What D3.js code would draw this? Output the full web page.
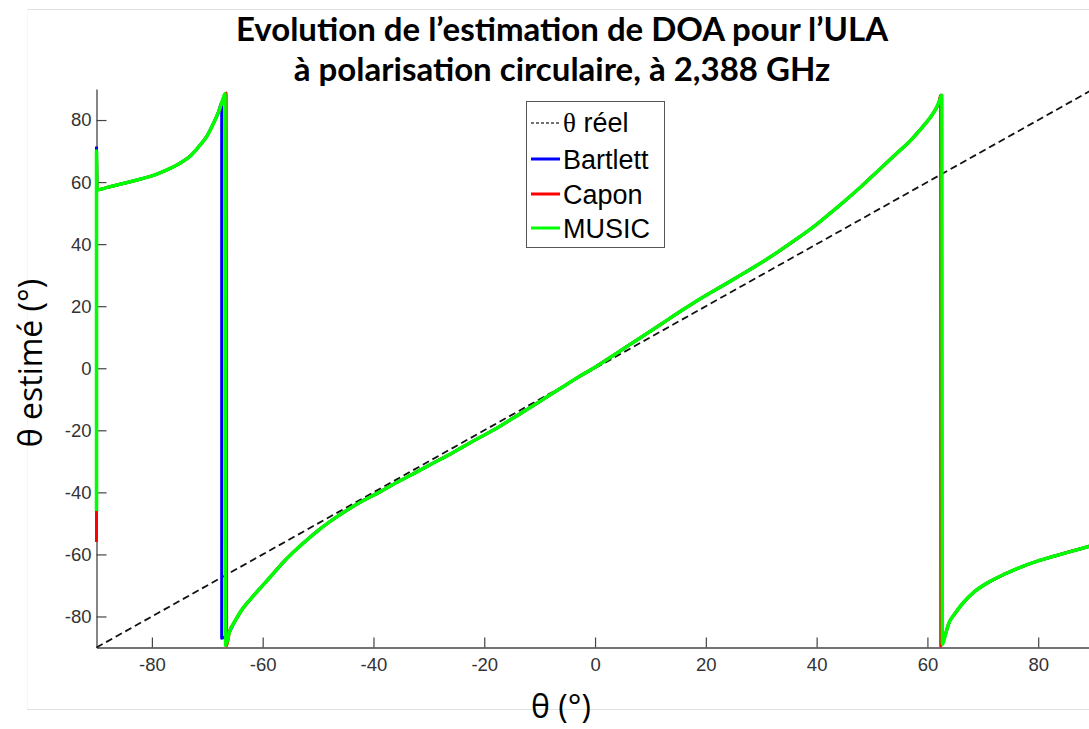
<!DOCTYPE html>
<html>
<head>
<meta charset="utf-8">
<script src="https://cdn.jsdelivr.net/npm/d3@7"></script>
<style>
  body { margin: 0; background: #fff; }
  svg { display: block; }
</style>
</head>
<body>
<div id="chart"></div>
<script>
// Valeurs (theta reel -> theta estime, en degres)
const xTicks = [-80, -60, -40, -20, 0, 20, 40, 60, 80];
const yTicks = [-80, -60, -40, -20, 0, 20, 40, 60, 80];

const reelX = [-90, 90];
const reelY = [-90, 90];

const musicX = [-90, -90, -89.9, -88, -85, -82, -80, -77.5, -75, -73, -71.5, -70, -69, -68, -67.3, -66.8,
  -66.7, -66, -65, -64, -62, -60, -58, -56, -54, -52, -50, -48, -45, -42, -39, -36, -33, -30, -27, -24, -21,
  -18, -15, -12, -9, -6, -3, 0, 3, 6, 9, 12, 15, 18, 21, 24, 27, 30, 33, 36, 39, 42, 45, 48, 51, 54, 57,
  59, 60.5, 61.5, 62.1, 62.6,
  62.7, 63.3, 63.8, 65, 66.5, 68.5, 71, 74, 77, 80, 83, 86, 90];
const musicY = [-46, 70, 57.5, 58.3, 59.6, 61, 62, 63.8, 66, 68.5, 71.5, 75, 78.5, 82.5, 86, 88.5,
  -89.4, -85, -81.5, -78.5, -74, -70, -66, -62, -58.5, -55.3, -52.3, -49.6, -46, -42.8, -40, -37, -34.2,
  -31.3, -28.5, -25.5, -22.5, -19.6, -16.3, -13, -9.6, -6.2, -2.8, 0.3, 3.8, 7.3, 10.8, 14.3, 17.9, 21.3,
  24.5, 27.6, 30.8, 34, 37.5, 41.2, 45, 49.3, 53.8, 58.5, 63.5, 68.5, 73.5, 77.5, 80.8, 83.5, 85.8, 88,
  -89, -85.5, -82.5, -79, -75.5, -72, -69, -66.3, -64, -62.1, -60.5, -59, -57];

const bartlettX = [-90, -89.9, -88, -85, -82, -80, -77.5, -75, -73, -71.5, -70, -69, -68, -67.4,
  -67.4, -66.8, -66, -65, -64, -62, -60, -58, -56, -54, -52, -50, -48, -45, -42, -39, -36, -33, -30, -27,
  -24, -21, -18, -15, -12, -9, -6, -3, 0, 3, 6, 9, 12, 15, 18, 21, 24, 27, 30, 33, 36, 39, 42, 45, 48,
  51, 54, 57, 59, 60.5, 61.5, 62.1, 62.5,
  62.6, 63.3, 63.8, 65, 66.5, 68.5, 71, 74, 77, 80, 83, 86, 90];
const bartlettY = [71.5, 57.5, 58.3, 59.6, 61, 62, 63.8, 66, 68.5, 71.5, 75, 78.5, 82.5, 85.5,
  -87, -86.5, -85, -81.5, -78.5, -74, -70, -66, -62, -58.5, -55.3, -52.3, -49.6, -46, -42.8, -40, -37,
  -34.2, -31.3, -28.5, -25.5, -22.5, -19.6, -16.3, -13, -9.6, -6.2, -2.8, 0.3, 3.8, 7.3, 10.8, 14.3, 17.9,
  21.3, 24.5, 27.6, 30.8, 34, 37.5, 41.2, 45, 49.3, 53.8, 58.5, 63.5, 68.5, 73.5, 77.5, 80.8, 83.5, 85.8, 88,
  -88.5, -85.5, -82.5, -79, -75.5, -72, -69, -66.3, -64, -62.1, -60.5, -59, -57];

const caponX = [-90, -90, -89.9, -88, -85, -82, -80, -77.5, -75, -73, -71.5, -70, -69, -68, -67.3, -66.6,
  -66.5, -66, -65, -64, -62, -60, -58, -56, -54, -52, -50, -48, -45, -42, -39, -36, -33, -30, -27, -24, -21,
  -18, -15, -12, -9, -6, -3, 0, 3, 6, 9, 12, 15, 18, 21, 24, 27, 30, 33, 36, 39, 42, 45, 48, 51, 54, 57,
  59, 60.5, 61.5, 62.1, 62.4,
  62.4, 63.3, 63.8, 65, 66.5, 68.5, 71, 74, 77, 80, 83, 86, 90];
const caponY = [-56, 68.5, 57.5, 58.3, 59.6, 61, 62, 63.8, 66, 68.5, 71.5, 75, 78.5, 82.5, 86, 88.7,
  -89.5, -85, -81.5, -78.5, -74, -70, -66, -62, -58.5, -55.3, -52.3, -49.6, -46, -42.8, -40, -37, -34.2,
  -31.3, -28.5, -25.5, -22.5, -19.6, -16.3, -13, -9.6, -6.2, -2.8, 0.3, 3.8, 7.3, 10.8, 14.3, 17.9, 21.3,
  24.5, 27.6, 30.8, 34, 37.5, 41.2, 45, 49.3, 53.8, 58.5, 63.5, 68.5, 73.5, 77.5, 80.8, 83.5, 85.8, 88,
  -89.5, -85.5, -82.5, -79, -75.5, -72, -69, -66.3, -64, -62.1, -60.5, -59, -57];

const seriesNames = ["Bartlett", "Capon", "MUSIC"];
const seriesColors = ["#0000ff", "#ff0000", "#00ff00"];

const width = 1089;
const height = 729;

const svg = d3.select("#chart")
  .append("svg")
  .attr("width", width)
  .attr("height", height);

// cadre gris clair de l'image d'origine
svg.append("line").attr("x1", 27).attr("x2", width).attr("y1", 9.5).attr("y2", 9.5)
  .attr("stroke", "#e2e2e2");
svg.append("line").attr("x1", 27).attr("x2", width).attr("y1", 709.5).attr("y2", 709.5)
  .attr("stroke", "#e2e2e2");
svg.append("line").attr("x1", 27.5).attr("x2", 27.5).attr("y1", 9).attr("y2", 709)
  .attr("stroke", "#f5f5f5");

const x = d3.scaleLinear().domain([-90, 90]).range([96.5, 1093.6]);
const y = d3.scaleLinear().domain([-90, 90]).range([647.5, 89]);

// axes (graduations vers l'interieur, style matlab)
const xAxis = svg.append("g")
  .attr("transform", `translate(0,${y(-90)})`)
  .call(d3.axisBottom(x).tickValues(xTicks).tickFormat(d => String(d))
    .tickSizeInner(-10).tickSizeOuter(0).tickPadding(10));
const yAxis = svg.append("g")
  .attr("transform", `translate(${x(-90)},0)`)
  .call(d3.axisLeft(y).tickValues(yTicks).tickFormat(d => String(d))
    .tickSizeInner(-10).tickSizeOuter(0).tickPadding(5));

[xAxis, yAxis].forEach(a => {
  a.select(".domain").attr("stroke", "#444").attr("stroke-width", 1.3);
  a.selectAll(".tick line").attr("stroke", "#444").attr("stroke-width", 1.2);
  a.selectAll(".tick text")
    .attr("font-family", "'Liberation Sans', Arial, sans-serif")
    .attr("font-size", 18.5)
    .attr("fill", "#333");
});

const line = d3.line().x(d => x(d[0])).y(d => y(d[1]));

// theta reel
svg.append("path")
  .datum(reelX.map((v, i) => [v, reelY[i]]))
  .attr("d", line)
  .attr("fill", "none")
  .attr("stroke", "#111")
  .attr("stroke-width", 1.8)
  .attr("stroke-dasharray", "7,4");

const seriesX = [bartlettX, caponX, musicX];
const seriesY = [bartlettY, caponY, musicY];
const widths = [3, 3, 3.5];

seriesX.forEach((xs, k) => {
  svg.append("path")
    .datum(xs.map((v, i) => [v, seriesY[k][i]]))
    .attr("d", line.curve(d3.curveMonotoneX))
    .attr("fill", "none")
    .attr("stroke", seriesColors[k])
    .attr("stroke-width", widths[k])
    .attr("stroke-linejoin", "round");
});

// legende
const legend = svg.append("g");
legend.append("rect")
  .attr("x", 526.5).attr("y", 101.5).attr("width", 138).attr("height", 146)
  .attr("fill", "#fff").attr("stroke", "#555").attr("stroke-width", 1);

const legendRows = [123, 159, 194, 228];
legend.append("line")
  .attr("x1", 531).attr("x2", 560).attr("y1", legendRows[0]).attr("y2", legendRows[0])
  .attr("stroke", "#444").attr("stroke-width", 1.3).attr("stroke-dasharray", "3,2");
const t0 = legend.append("text")
  .attr("x", 563).attr("y", legendRows[0] + 9)
  .attr("font-family", "'Liberation Sans', Arial, sans-serif")
  .attr("font-size", 27).attr("fill", "#000");
t0.append("tspan").attr("font-family", "'Liberation Serif', 'Times New Roman', serif").text("θ");
t0.append("tspan").text(" réel");

seriesNames.forEach((name, k) => {
  const yy = legendRows[k + 1];
  legend.append("line")
    .attr("x1", 531).attr("x2", 560).attr("y1", yy).attr("y2", yy)
    .attr("stroke", seriesColors[k]).attr("stroke-width", 3);
  legend.append("text")
    .attr("x", 563).attr("y", yy + 10)
    .attr("font-family", "'Liberation Sans', Arial, sans-serif")
    .attr("font-size", 27).attr("fill", "#000")
    .text(name);
});

// titres
const title = svg.append("text")
  .attr("text-anchor", "middle")
  .attr("font-family", "Lato, 'Open Sans', sans-serif")
  .attr("font-weight", "bold")
  .attr("font-size", 33)
  .attr("fill", "#000");
title.append("tspan").attr("x", 562).attr("y", 41).text("Evolution de l’estimation de DOA pour l’ULA");
title.append("tspan").attr("x", 562).attr("y", 81).text("à polarisation circulaire, à 2,388 GHz");

svg.append("text")
  .attr("x", 561).attr("y", 718)
  .attr("text-anchor", "middle")
  .attr("font-family", "'Open Sans', sans-serif")
  .attr("font-size", 32)
  .text("θ (°)");

svg.append("text")
  .attr("transform", "translate(42,363) rotate(-90)")
  .attr("text-anchor", "middle")
  .attr("font-family", "'Open Sans', sans-serif")
  .attr("font-size", 32)
  .text("θ estimé (°)");
</script>
</body>
</html>
